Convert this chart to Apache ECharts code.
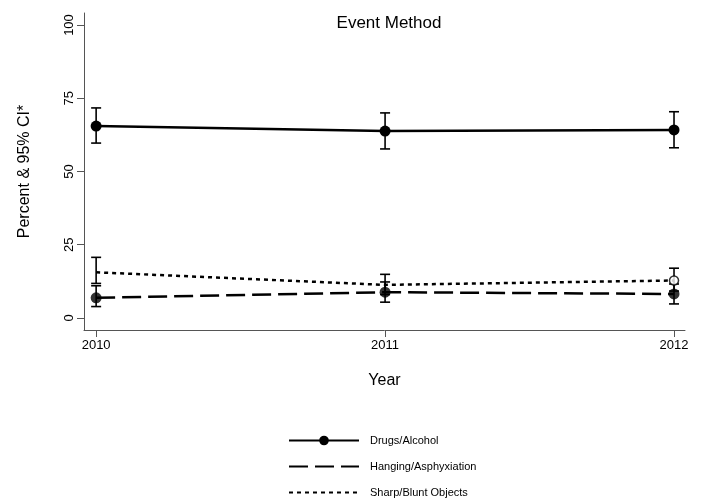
<!DOCTYPE html>
<html>
<head>
<meta charset="utf-8">
<script src="https://cdn.jsdelivr.net/npm/echarts@6/dist/echarts.min.js"></script>
<style>html,body{margin:0;padding:0;background:#fff}#c{width:702px;height:504px}</style>
</head>
<body>
<div id="c"></div>
<script>
const years = [2010, 2011, 2012];
const yTicks = [0, 25, 50, 75, 100];
const drugs = [65.5, 63.8, 64.2];
const drugsLo = [59.7, 57.7, 58.1];
const drugsHi = [71.7, 70.0, 70.4];
const hanging = [6.9, 8.8, 8.2];
const hangingLo = [3.9, 5.4, 4.8];
const hangingHi = [11.0, 12.3, 11.6];
const sharp = [15.6, 11.3, 12.8];
const sharpLo = [11.8, 8.0, 9.2];
const sharpHi = [20.7, 14.9, 17.0];

const FONT = 'Liberation Sans';
const pairs = (v) => years.map((x, i) => [x, v[i]]);
const ci = (lo, hi) => years.map((x, i) => [x, lo[i], hi[i]]);

function errRender(params, api) {
  const x = api.value(0);
  const top = api.coord([x, api.value(2)]);
  const bot = api.coord([x, api.value(1)]);
  const hw = 5;
  const st = {stroke: '#000', lineWidth: 1.6};
  return {
    type: 'group',
    children: [
      {type: 'line', shape: {x1: top[0], y1: top[1], x2: bot[0], y2: bot[1]}, style: st},
      {type: 'line', shape: {x1: top[0] - hw, y1: top[1], x2: top[0] + hw, y2: top[1]}, style: st},
      {type: 'line', shape: {x1: bot[0] - hw, y1: bot[1], x2: bot[0] + hw, y2: bot[1]}, style: st}
    ]
  };
}

const noMark = {color: 'rgba(0,0,0,0)', borderWidth: 0, opacity: 0};

const chart = echarts.init(document.getElementById('c'), null, {renderer: 'canvas'});
chart.setOption({
  animation: false,
  backgroundColor: '#fff',
  textStyle: {fontFamily: FONT},
  title: {
    text: 'Event Method', left: 384, top: 10, textAlign: 'center',
    textStyle: {fontFamily: FONT, fontSize: 17, fontWeight: 'normal', color: '#000'}
  },
  grid: {left: 84, right: 17, top: 13, bottom: 174},
  xAxis: {
    type: 'value', min: 2009.958, max: 2012.038,
    name: 'Year', nameLocation: 'middle', nameGap: 43,
    nameTextStyle: {fontFamily: FONT, fontSize: 16, color: '#000'},
    splitLine: {show: false},
    axisLine: {show: true, onZero: false, lineStyle: {color: '#555', width: 1}},
    axisTick: {show: true, length: 7, customValues: years, lineStyle: {color: '#555'}},
    axisLabel: {customValues: years, fontFamily: FONT, fontSize: 13, color: '#000', margin: 9,
      formatter: v => String(v)}
  },
  yAxis: {
    type: 'value', min: -4.1, max: 104.1,
    name: 'Percent & 95% CI*', nameLocation: 'middle', nameGap: 51, nameRotate: 90,
    nameTextStyle: {fontFamily: FONT, fontSize: 16, color: '#000'},
    splitLine: {show: false},
    axisLine: {show: true, lineStyle: {color: '#555', width: 1}},
    axisTick: {show: true, length: 7, customValues: yTicks, lineStyle: {color: '#555'}},
    axisLabel: {customValues: yTicks, rotate: 90, fontFamily: FONT, fontSize: 13, color: '#000', margin: 8}
  },
  legend: {
    orient: 'vertical', left: 288, top: 435, padding: 0, height: 70,
    itemWidth: 70, itemHeight: 12, itemGap: 15,
    data: [
      {name: 'Drugs/Alcohol'},
      {name: 'Hanging/Asphyxiation', itemStyle: noMark},
      {name: 'Sharp/Blunt Objects', itemStyle: noMark}
    ],
    textStyle: {fontFamily: FONT, fontSize: 11, color: '#000', padding: [0, 0, 0, 6]}
  },
  series: [
    {type: 'custom', name: 'ciDrugs', renderItem: errRender, data: ci(drugsLo, drugsHi), z: 2},
    {type: 'custom', name: 'ciHanging', renderItem: errRender, data: ci(hangingLo, hangingHi), z: 2},
    {type: 'custom', name: 'ciSharp', renderItem: errRender, data: ci(sharpLo, sharpHi), z: 2},
    {type: 'line', name: 'Drugs/Alcohol', data: pairs(drugs), symbol: 'circle', symbolSize: 11,
      lineStyle: {color: '#000', width: 2.5}, itemStyle: {color: '#000'}, z: 4},
    {type: 'line', name: 'Hanging/Asphyxiation', data: pairs(hanging), symbol: 'none',
      lineStyle: {color: '#000', width: 2.5, type: [19, 7]}, itemStyle: {color: '#000'}, z: 3},
    {type: 'line', name: 'Sharp/Blunt Objects', data: pairs(sharp), symbol: 'none',
      lineStyle: {color: '#000', width: 2.5, type: [4, 4]}, itemStyle: {color: '#000'}, z: 3},
    {type: 'scatter', name: 'mHanging', data: pairs(hanging), symbol: 'circle', symbolSize: 11,
      itemStyle: {color: '#000'}, z: 5},
    {type: 'scatter', name: 'mSharp', data: [[years[2], sharp[2]]], symbol: 'circle', symbolSize: 9,
      itemStyle: {color: '#fff', borderColor: '#000', borderWidth: 1.5}, z: 5}
  ]
});
</script>
</body>
</html>
